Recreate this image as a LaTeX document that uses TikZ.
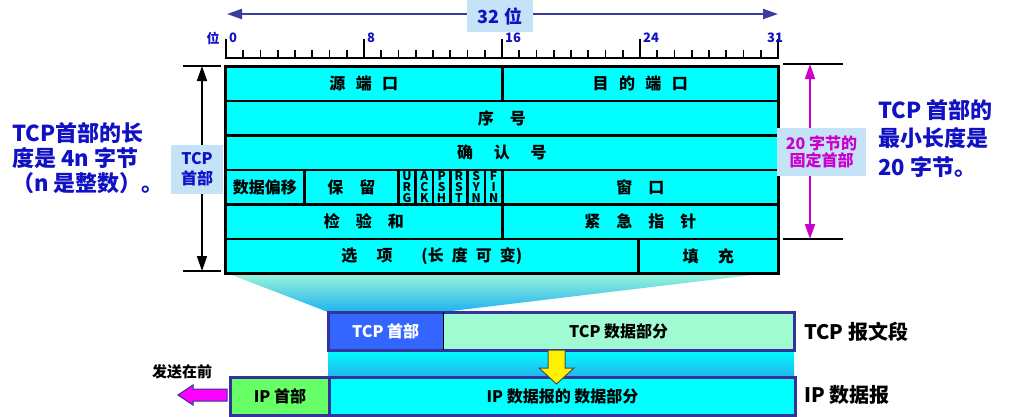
\documentclass[tikz,border=0pt]{standalone}
\usepackage{fontspec}
\setmainfont{Noto Sans CJK SC}
\usepackage{xcolor}
\usetikzlibrary{arrows.meta}

\definecolor{cellcyan}{HTML}{00FFFF}
\definecolor{tagblue}{HTML}{C5E3F7}
\definecolor{txtblue}{HTML}{1111C4}
\definecolor{rulerblue}{HTML}{3C3C9E}
\definecolor{minmag}{HTML}{CC00CC}
\definecolor{hdrblue}{HTML}{3366FF}
\definecolor{datamint}{HTML}{A0FAD2}
\definecolor{ipgreen}{HTML}{66FF66}
\definecolor{segframe}{HTML}{333399}
\definecolor{fanmint}{HTML}{A0F8D8}
\definecolor{fanblue}{HTML}{1EB2F0}
\definecolor{wrapblue}{HTML}{22B6EE}
\definecolor{sendpink}{HTML}{FF00FF}

\protected\def\cellfont#1{\bfseries\fontsize{16}{16}\selectfont\spaceskip=#1\relax}

\begin{document}
\begin{tikzpicture}[x=1pt,y=-1pt,
    cell/.style={draw=black, line width=2.6pt, fill=cellcyan, anchor=north west,
      minimum height=34.5pt, inner sep=0pt, font=\cellfont{1em}},
    portcell/.style={cell, font=\cellfont{.65em}},
    flagcell/.style={cell, minimum width=17.33pt, align=center,
      font=\bfseries\fontsize{12}{10.7}\selectfont},
    tagbox/.style={fill=tagblue, inner sep=0pt, align=center},
    bitnum/.style={text=txtblue, inner sep=0pt, font=\bfseries\fontsize{13}{13}\selectfont},
    bigtext/.style={text=txtblue, anchor=west, align=left, inner sep=0pt},
    seg/.style={inner sep=0pt, minimum height=38pt, anchor=north west,
      font=\bfseries\fontsize{16}{16}\selectfont},
    seglabel/.style={anchor=west, inner sep=0pt, font=\bfseries\fontsize{20}{20}\selectfont}]
  \useasboundingbox (0,0) rectangle (1022,416);

  \coordinate (bitL) at (227,14);
  \coordinate (bitR) at (778,14);
  \draw[rulerblue, line width=2pt, {Triangle[length=15pt,width=10pt]}-{Triangle[length=15pt,width=10pt]}] (bitL) -- (bitR);
  \node[tagbox, minimum width=66pt, minimum height=32pt, text=txtblue,
    font=\bfseries\fontsize{18}{18}\selectfont] (bitwidth) at (500,16) {32 位};

  \draw[line width=2.6pt] (225,58) -- (779,58);
  \foreach \i in {0,...,32}{\draw[line width=1.8pt] ({226+17.25*\i},58) -- ({226+17.25*\i},49.5);}
  \foreach \i in {0,8,...,32}{\draw[line width=1.8pt] ({226+17.25*\i},58) -- ({226+17.25*\i},39);}
  \foreach \i in {0,8,16,24}{\node[bitnum, anchor=west] (bit\i) at ({229+17.25*\i},38) {\i};}
  \node[bitnum] (bit31) at (775,38) {31};
  \node[bitnum] (bitunit) at (213,38) {位};

  \shade[top color=fanmint, bottom color=fanblue] (224,272) -- (777,272) -- (443,312) -- (328,312) -- cycle;

  \node[portcell, minimum width=277pt] (srcport) at (224,65) {源 端 口};
  \node[portcell, minimum width=276pt] (dstport) at (501,65) {目 的 端 口};
  \node[cell, minimum width=553pt] (seqnum) at (224,99.5) {序 号};
  \node[cell, minimum width=553pt, font=\cellfont{1.3em}] (acknum) at (224,134) {确 认 号};
  \node[cell, minimum width=79pt] (offset) at (224,168.5) {数据偏移};
  \node[cell, minimum width=94pt] (reserved) at (303,168.5) {保 留};
  \foreach \fa/\fb/\fc [count=\k from 0] in {U/R/G,A/C/K,P/S/H,R/S/T,S/Y/N,F/I/N}{
    \node[flagcell] (flag\k) at ({397+17.33*\k},168.5) {\fa\\\fb\\\fc};}
  \node[cell, minimum width=276pt] (window) at (501,168.5) {窗 口};
  \node[cell, minimum width=277pt] (checksum) at (224,203) {检 验 和};
  \node[cell, minimum width=276pt] (urgptr) at (501,203) {紧 急 指 针};
  \node[cell, minimum width=413pt, font=\cellfont{.5em}] (options) at (224,237.5) {选\hspace{1.2em}项\hspace{1.8em}(长 度 可 变)};
  \node[cell, minimum width=140pt, font=\cellfont{1.2em}] (padding) at (637,237.5) {填 充};

  \coordinate (lentop) at (202,66);
  \coordinate (lenbot) at (202,271);
  \draw[line width=1.6pt] (183,66) -- (221,66);
  \draw[line width=1.6pt] (183,271) -- (221,271);
  \draw[line width=1.5pt, {Triangle[length=15pt,width=10pt]}-{Triangle[length=15pt,width=10pt]}] (lentop) -- (lenbot);
  \node[tagbox, minimum width=52pt, minimum height=49pt, text=txtblue,
    font=\bfseries\fontsize{16}{20}\selectfont] (hdrtag) at (197,169.5) {TCP\\首部};

  \coordinate (mintop) at (810,64);
  \coordinate (minbot) at (810,239);
  \draw[line width=1.6pt] (783,64) -- (843,64);
  \draw[line width=1.6pt] (783,239) -- (843,239);
  \draw[minmag, line width=1.8pt, {Triangle[length=15pt,width=10pt]}-{Triangle[length=15pt,width=10pt]}] (mintop) -- (minbot);
  \node[tagbox, minimum width=89pt, minimum height=48pt, text=minmag,
    font=\bfseries\fontsize{16}{17}\selectfont] (minhdr) at (821.5,152) {20 字节的\\固定首部};

  \node[bigtext, font=\bfseries\fontsize{22}{25}\selectfont] (lentext) at (12,158) {TCP首部的长\\度是 4n 字节\\（n 是整数）。};
  \node[bigtext, font=\bfseries\fontsize{22}{28.5}\selectfont] (mintext) at (878,138.5) {TCP 首部的\\最小长度是\\20 字节。};

  \shade[top color=cellcyan, bottom color=wrapblue] (328,350) rectangle (794,376);
  \node[seg, fill=hdrblue, text=white, minimum width=115pt] (tcphdr) at (328,312) {TCP 首部};
  \node[seg, fill=datamint, minimum width=351pt] (tcpdata) at (443,312) {TCP 数据部分};
  \draw[segframe, line width=3pt] (tcphdr.north west) rectangle (tcpdata.south east);
  \draw[line width=1.6pt] (tcphdr.north east) -- (tcphdr.south east);

  \node[seg, draw=segframe, line width=3pt, fill=ipgreen, minimum width=99pt] (iphdr) at (229,376) {IP 首部};
  \node[seg, draw=segframe, line width=3pt, fill=cellcyan, minimum width=466pt] (ipdata) at (328,376) {IP 数据报的 数据部分};

  \draw[fill=yellow, draw=black!70, line width=1pt] (548,350) -- (565,350) -- (565,368) -- (574,368) -- (556.5,384) -- (539,368) -- (548,368) -- cycle;
  \draw[fill=sendpink, draw=segframe, line width=1pt] (227,389) -- (193,389) -- (193,385) -- (178,395) -- (193,405) -- (193,401) -- (227,401) -- cycle;

  \node[seglabel] (tcpseg) at (804,332) {TCP 报文段};
  \node[seglabel] (ipdgram) at (804,395) {IP 数据报};
  \node[inner sep=0pt, font=\bfseries\fontsize{15}{15}\selectfont] (sendfirst) at (182,372) {发送在前};
\end{tikzpicture}
\end{document}
